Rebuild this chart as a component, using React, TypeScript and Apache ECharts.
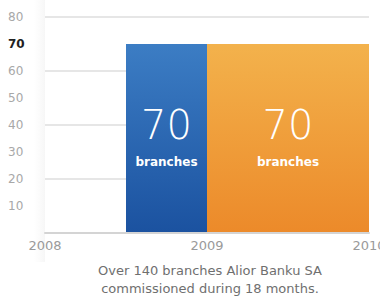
import React, { useEffect, useRef } from "react";
import * as echarts from "echarts";

const yearTicks = [2008, 2009, 2010];
const periodStart = [2008.5, 2009];
const periodEnd = [2009, 2010];
const branchCounts = [70, 70];
const barTopColors = ["#3c7dc4", "#f3b24c"];
const barBottomColors = ["#1b52a0", "#ec8a2a"];
const captionLines = ["Over 140 branches Alior Banku SA", "commissioned during 18 months."];
const FONT = "DejaVu Sans, Verdana, sans-serif";

export default function App() {
  const ref = useRef<HTMLDivElement>(null);
  useEffect(() => {
    if (!ref.current) return;
    const chart = echarts.init(ref.current, undefined, { renderer: "svg" });
    const data = branchCounts.map((v, i) => [periodStart[i], periodEnd[i], v, i]);
    chart.setOption({
      animation: false,
      backgroundColor: "#ffffff",
      grid: { left: 45, right: 11, top: 17, bottom: 65, outerBoundsMode: "none", containLabel: false },
      xAxis: {
        type: "value",
        min: yearTicks[0],
        max: yearTicks[yearTicks.length - 1],
        interval: 1,
        axisLine: { show: true, lineStyle: { color: "#d4d4d4", width: 2 } },
        axisTick: { show: false },
        splitLine: { show: false },
        axisLabel: {
          color: "#9a9a9a",
          fontSize: 13,
          fontFamily: FONT,
          margin: 6,
          formatter: (v: number) => String(v),
        },
      },
      yAxis: [
        {
          type: "value",
          min: 0,
          max: 80,
          interval: 10,
          axisLine: { show: false },
          axisTick: { show: false },
          splitLine: { show: false },
          axisLabel: {
            margin: 37,
            align: "left",
            fontFamily: FONT,
            fontSize: 12,
            color: "#a8a8a8",
            formatter: (v: number) => (v === 0 ? "" : v === 70 ? "{b|70}" : String(v)),
            rich: { b: { fontWeight: "bold", color: "#222222", fontSize: 12, fontFamily: FONT } },
          },
        },
        {
          type: "value",
          min: 0,
          max: 80,
          interval: 20,
          position: "left",
          axisLine: { show: false },
          axisTick: { show: false },
          axisLabel: { show: false },
          splitLine: { show: true, lineStyle: { color: "#e6e6e6", width: 2 } },
        },
      ],
      graphic: [
        {
          type: "rect",
          shape: { x: 34, y: 0, width: 11, height: 262 },
          style: {
            fill: new echarts.graphic.LinearGradient(0, 0, 1, 0, [
              { offset: 0, color: "rgba(235,235,235,0)" },
              { offset: 1, color: "rgba(230,230,230,0.35)" },
            ]),
          },
          z: -1,
        },
        ...captionLines.map((t, i) => ({
          type: "text",
          x: 210,
          y: 270 + i * 18,
          style: {
            text: t,
            fill: "#6f6f6f",
            fontSize: 13,
            fontFamily: FONT,
            align: "center",
            verticalAlign: "middle",
          },
        })),
      ],
      series: [
        {
          type: "line",
          yAxisIndex: 1,
          data: [],
        },
        {
          type: "custom",
          yAxisIndex: 0,
          data,
          encode: { x: [0, 1], y: 2 },
          renderItem: (params: any, api: any) => {
            const p0 = api.coord([api.value(0), api.value(2)]);
            const p1 = api.coord([api.value(1), 0]);
            const idx = api.value(3);
            const w = p1[0] - p0[0];
            const h = p1[1] - p0[1];
            const cx = p0[0] + w / 2;
            return {
              type: "group",
              children: [
                {
                  type: "rect",
                  shape: { x: p0[0], y: p0[1], width: w, height: h - 1 },
                  style: {
                    fill: new echarts.graphic.LinearGradient(0, 0, 0, 1, [
                      { offset: 0, color: barTopColors[idx] },
                      { offset: 1, color: barBottomColors[idx] },
                    ]),
                  },
                },
                {
                  type: "text",
                  x: cx,
                  y: p0[1] + 81,
                  style: {
                    text: String(api.value(2)),
                    fill: "#ffffff",
                    fontSize: 40,
                    fontFamily: FONT,
                    fontWeight: 200,
                    align: "center",
                    verticalAlign: "middle",
                  },
                },
                {
                  type: "text",
                  x: cx,
                  y: p0[1] + 118,
                  style: {
                    text: "branches",
                    fill: "#ffffff",
                    fontSize: 12,
                    fontWeight: "bold",
                    fontFamily: FONT,
                    align: "center",
                    verticalAlign: "middle",
                  },
                },
              ],
            };
          },
        },
      ],
    });
    return () => chart.dispose();
  }, []);
  return <div ref={ref} style={{ width: 380, height: 298, position: "absolute", left: 0, top: 0 }} />;
}
